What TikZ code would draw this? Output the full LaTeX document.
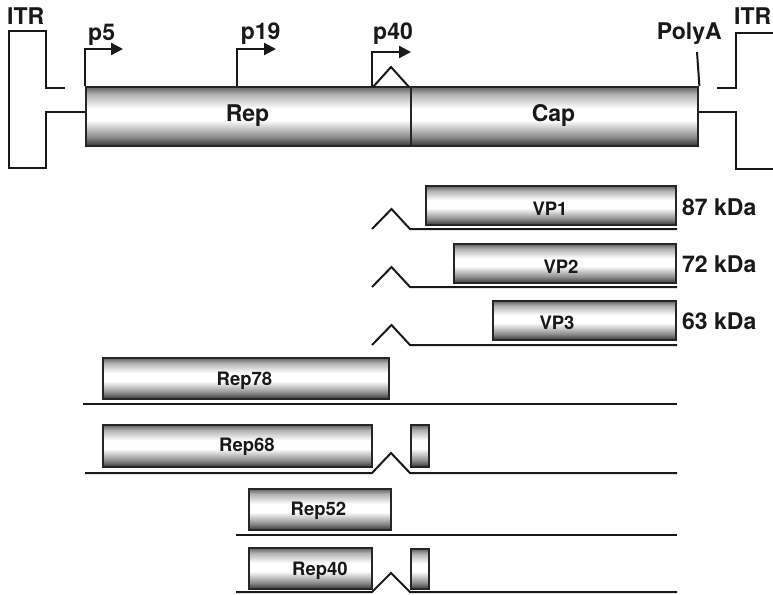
\documentclass[tikz,border=0pt]{standalone}
\usepackage{fontspec}
\setmainfont{TeX Gyre Heros}
\usetikzlibrary{arrows.meta}
\pgfdeclareverticalshading{tube}{100bp}{color(0bp)=(black!80); color(25bp)=(black!80); color(33bp)=(black!45); color(47bp)=(white); color(57bp)=(white); color(69bp)=(black!30); color(75bp)=(black!60); color(100bp)=(black!60)}
\begin{document}
\begin{tikzpicture}[x=1pt,y=-1pt,
  gbox/.style={draw=black!85, line width=2.4pt, shading=tube, inner sep=0pt, anchor=north west},
  big/.style={font=\bfseries\fontsize{23}{23}\selectfont, inner sep=0pt, text=black!90},
  small/.style={font=\bfseries\fontsize{18.5}{18.5}\selectfont, inner sep=0pt, anchor=base, text=black!90},
  strand/.style={line width=2pt, black!90},
  prom/.style={line width=2.4pt, black!90, -{Triangle[length=12pt,width=12pt]}}]
\useasboundingbox (0,0) rectangle (773,594);

% main genome bar
\node[gbox, minimum width=325pt, minimum height=59pt] (rep) at (85,86) {};
\node[gbox, minimum width=287pt, minimum height=59pt] (cap) at (410,86) {};
\node[big, anchor=base] (replab) at (247.5,121.7) {Rep};
\node[big, anchor=base] (caplab) at (553.5,121.7) {Cap};

% ITRs
\coordinate (il) at (46,112);
\coordinate (ir) at (736,112);
\draw[strand] (65,88) -- (46,88) -- (46,31) -- (9,31) -- (9,168) -- (46,168) -- (il) -- (rep.west |- il);
\draw[strand] (717,88) -- (736,88) -- (736,33) -- (773,33);
\draw[strand] (cap.east |- ir) -- (ir) -- (736,169) -- (773,169);
\node[big, anchor=base west] (itrl) at (7,25) {ITR};
\node[big, anchor=base west] (itrr) at (734,25) {ITR};

% promoters
\coordinate (p5e) at (123,49);
\coordinate (p19e) at (276,49);
\coordinate (p40e) at (411,52);
\draw[prom] (rep.north west) |- (p5e);
\draw[prom] (237,86) |- (p19e);
\draw[prom] (372,86) |- (p40e);
\draw[strand] (373,87) -- (391,67) -- (409,87);
\node[big, anchor=base west] (p5) at (88,41) {p5};
\node[big, anchor=base west] (p19) at (240.7,40) {p19};
\node[big, anchor=base west] (p40) at (373,40) {p40};

% PolyA
\coordinate (pa) at (697,52);
\draw[strand] (pa) -- (cap.north east);
\node[big, anchor=base west] (polya) at (656.7,40) {PolyA};

% VP transcripts
\node[gbox, minimum width=250pt, minimum height=39pt] (vp1) at (425,185) {};
\node[small] (vp1l) at (550,215) {VP1};
\draw[strand] (372,229) -- (391.5,209) -- (410,229) -- (677,229);
\node[big, anchor=base west] (k87) at (682,215) {87 kDa};

\node[gbox, minimum width=222pt, minimum height=39pt] (vp2) at (453,243) {};
\node[small] (vp2l) at (561,273) {VP2};
\draw[strand] (372,287) -- (391.5,267) -- (410,287) -- (677,287);
\node[big, anchor=base west] (k72) at (682,272) {72 kDa};

\node[gbox, minimum width=183pt, minimum height=39pt] (vp3) at (492,300) {};
\node[small] (vp3l) at (557,329.5) {VP3};
\draw[strand] (372,345) -- (391.5,325) -- (410,345) -- (677,345);
\node[big, anchor=base west] (k63) at (682,329.5) {63 kDa};

% Rep transcripts
\node[gbox, minimum width=286pt, minimum height=41pt] (rep78) at (102,357) {};
\node[small] (rep78l) at (244.5,385) {Rep78};
\draw[strand] (83,404) -- (677,404);

\node[gbox, minimum width=269pt, minimum height=42pt] (rep68) at (102,424) {};
\node[gbox, minimum width=18pt, minimum height=42pt] (rep68b) at (410,424) {};
\node[small] (rep68l) at (247,451.7) {Rep68};
\draw[strand] (85,473) -- (372,473) -- (391,453) -- (410,473) -- (677,473);

\node[gbox, minimum width=142pt, minimum height=41pt] (rep52) at (248,488) {};
\node[small] (rep52l) at (318.5,515) {Rep52};
\draw[strand] (236,535) -- (677,535);

\node[gbox, minimum width=123pt, minimum height=41pt] (rep40) at (248,547) {};
\node[gbox, minimum width=18pt, minimum height=40pt] (rep40b) at (410,548) {};
\node[small] (rep40l) at (320,575) {Rep40};
\draw[strand] (236,592) -- (372,592) -- (391,573) -- (410,592) -- (677,592);
\end{tikzpicture}
\end{document}
